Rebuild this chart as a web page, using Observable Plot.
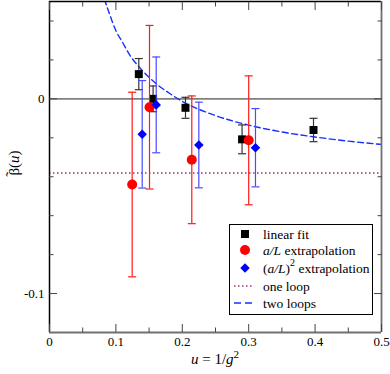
<!DOCTYPE html>
<html><head><meta charset="utf-8">
<script src="https://cdn.jsdelivr.net/npm/d3@7"></script>
<script src="https://cdn.jsdelivr.net/npm/@observablehq/plot@0.6"></script>
<style>body{margin:0;background:#fff} #chart{width:390px;height:374px}
#chart svg text{font-family:"Liberation Serif","DejaVu Serif",serif !important;}</style>
</head><body><div id="chart"></div>
<script>
// ---- data ----
const linearU   = [0.1345, 0.156, 0.2048, 0.290, 0.3976];
const linearB   = [0.0127, 0.0, -0.0046, -0.0208, -0.016];
const linearErr = [0.008, 0.0066, 0.0054, 0.0074, 0.006];

const aLU   = [0.1245, 0.1506, 0.2143, 0.300];
const aLB   = [-0.044, -0.0043, -0.0313, -0.0213];
const aLErr = [0.0474, 0.042, 0.0328, 0.0331];

const a2U   = [0.1396, 0.1607, 0.2249, 0.3102];
const a2B   = [-0.0182, -0.0031, -0.0237, -0.0251];
const a2Err = [0.0276, 0.0246, 0.022, 0.0201];

const oneLoop = -0.0381;
const twoLoopU = [0.078, 0.09, 0.1, 0.11, 0.12, 0.14, 0.16, 0.18, 0.2, 0.25, 0.3, 0.35, 0.4, 0.45, 0.5];
const twoLoopB = [0.056, 0.044, 0.035, 0.029, 0.023, 0.0145, 0.008, 0.003, -0.0013, -0.0086, -0.0135, -0.017, -0.0196, -0.0217, -0.0234];

const xMajor = [0, 0.1, 0.2, 0.3, 0.4, 0.5];
const xMinor = [0.05, 0.15, 0.25, 0.35, 0.45];
const yMajor = [0, -0.1];
const yMinor = [0.04, 0.02, -0.02, -0.04, -0.06, -0.08];
const legendLabels = ["linear fit", "a/L extrapolation", "(a/L)2 extrapolation", "one loop", "two loops"];

const mk = (U, B, E) => U.map((u, i) => ({u, b: B[i], e: E[i]}));
const linear = mk(linearU, linearB, linearErr);
const aL = mk(aLU, aLB, aLErr);
const a2 = mk(a2U, a2B, a2Err);
const two = twoLoopU.map((u, i) => ({u, b: twoLoopB[i]}));

const capSym = {draw(ctx, size) { const w = Math.sqrt(size / Math.PI); ctx.moveTo(-w, 0); ctx.lineTo(w, 0); }};

function errMarks(data, color, sym, r, fill) {
  return [
    Plot.ruleX(data, {x: "u", y1: d => d.b - d.e, y2: d => d.b + d.e, stroke: color, strokeWidth: 1.2}),
    Plot.dot(data, {x: "u", y: d => d.b + d.e, symbol: capSym, r: 4, stroke: color, strokeWidth: 1.2}),
    Plot.dot(data, {x: "u", y: d => d.b - d.e, symbol: capSym, r: 4, stroke: color, strokeWidth: 1.2}),
    Plot.dot(data, {x: "u", y: "b", symbol: sym, r, fill, stroke: "none"})
  ];
}

const FF = "'Liberation Serif','DejaVu Serif',serif";
const plot = Plot.plot({
  width: 390, height: 374,
  marginLeft: 49, marginRight: 9, marginTop: 1, marginBottom: 42,
  style: {fontFamily: FF, fontSize: "13px", background: "#fff", color: "#000"},
  x: {domain: [0, 0.5]},
  y: {domain: [-0.12, 0.05]},
  marks: [
    Plot.ruleY([0], {stroke: "#808080", strokeWidth: 1.8}),
    Plot.ruleY([oneLoop], {stroke: "#993377", strokeWidth: 1.5, strokeDasharray: "1.5,2.5"}),
    Plot.line(two, {x: "u", y: "b", stroke: "#1530ff", strokeWidth: 1.4, strokeDasharray: "6,3.5", curve: "monotone-x", clip: true}),
    ...errMarks(linear, "#333", "square", 4.5, "#000"),
    ...errMarks(aL, "#ff1a1a", "circle", 5, "#ff0000"),
    ...errMarks(a2, "#4a4aff", "diamond2", 4.3, "#0000ff"),
    // frame
    Plot.ruleX([0], {stroke: "#000", strokeWidth: 1.5}),
    Plot.ruleY([0.05], {stroke: "#000", strokeWidth: 1.5}),
    Plot.ruleX([0.5], {stroke: "#707070", strokeWidth: 1.8}),
    Plot.ruleY([-0.12], {stroke: "#707070", strokeWidth: 1.8}),
    // ticks (inward)
    Plot.axisX({anchor: "bottom", ticks: xMajor, tickSize: -8, tickFormat: () => "", label: null, stroke: "#444"}),
    Plot.axisX({anchor: "bottom", ticks: xMinor, tickSize: -4.5, tickFormat: () => "", label: null, stroke: "#444"}),
    Plot.axisX({anchor: "top", ticks: xMajor, tickSize: -8, tickFormat: () => "", label: null, stroke: "#444"}),
    Plot.axisX({anchor: "top", ticks: xMinor, tickSize: -4.5, tickFormat: () => "", label: null, stroke: "#444"}),
    Plot.axisY({anchor: "left", ticks: yMajor, tickSize: -8, tickFormat: () => "", label: null, stroke: "#444"}),
    Plot.axisY({anchor: "left", ticks: yMinor, tickSize: -4.5, tickFormat: () => "", label: null, stroke: "#444"}),
    Plot.axisY({anchor: "right", ticks: yMajor, tickSize: -8, tickFormat: () => "", label: null, stroke: "#444"}),
    Plot.axisY({anchor: "right", ticks: yMinor, tickSize: -4.5, tickFormat: () => "", label: null, stroke: "#444"}),
    // labels
    Plot.axisX({anchor: "bottom", ticks: xMajor, tickSize: 0, tickPadding: 4, tickFormat: d => String(d), label: null, fontSize: 13}),
    Plot.axisY({anchor: "left", ticks: yMajor, tickSize: 0, tickPadding: 5, tickFormat: d => String(d), label: null, fontSize: 13})
  ]
});
document.getElementById("chart").appendChild(plot);

const svg = d3.select(plot);
// axis titles
const xl = svg.append("text").attr("x", 215).attr("y", 364).attr("text-anchor", "middle")
  .style("font-size", "15px").attr("fill", "#000");
xl.append("tspan").attr("font-style", "italic").text("u");
xl.append("tspan").text(" = 1/");
xl.append("tspan").attr("font-style", "italic").text("g");
xl.append("tspan").attr("dy", -6).style("font-size", "11px").text("2");

const yl = svg.append("text").attr("transform", "translate(19,163) rotate(-90)").attr("text-anchor", "middle")
  .style("font-size", "15px").attr("fill", "#000");
yl.append("tspan").text("\u03B2(");
yl.append("tspan").attr("font-style", "italic").text("u");
yl.append("tspan").text(")");
svg.append("text").attr("transform", "translate(16,174) rotate(-90)").attr("text-anchor", "middle")
  .style("font-size", "15px").attr("fill", "#000").text("\u02DC");

// legend
const lg = svg.append("g").attr("fill", "#000");
lg.append("rect").attr("x", 229.5).attr("y", 224.5).attr("width", 143).attr("height", 90)
  .attr("fill", "#fff").attr("stroke", "#000").attr("stroke-width", 1);
const rows = [234, 250, 268, 286, 303];
const sx = 245, tx = 263;
lg.append("path").attr("transform", `translate(${sx},${rows[0]})`).attr("d", d3.symbol(d3.symbolSquare, 4.5 * 4.5 * Math.PI)()).attr("fill", "#000");
lg.append("path").attr("transform", `translate(${sx},${rows[1]})`).attr("d", d3.symbol(d3.symbolCircle, 5 * 5 * Math.PI)()).attr("fill", "#f00");
lg.append("path").attr("transform", `translate(${sx},${rows[2]})`).attr("d", d3.symbol(d3.symbolDiamond2, 4.3 * 4.3 * Math.PI)()).attr("fill", "#00f");
lg.append("line").attr("x1", 234).attr("x2", 254).attr("y1", rows[3]).attr("y2", rows[3]).attr("stroke", "#993377").attr("stroke-width", 1.5).attr("stroke-dasharray", "1.5,2.5");
lg.append("line").attr("x1", 234).attr("x2", 256).attr("y1", rows[4]).attr("y2", rows[4]).attr("stroke", "#1530ff").attr("stroke-width", 1.5).attr("stroke-dasharray", "7,4");

function lt(i) { return lg.append("text").attr("x", tx).attr("y", rows[i] + 4.5).attr("text-anchor", "start").style("font-size", "13.5px"); }
lt(0).text(legendLabels[0]);
{ const t = lt(1); t.append("tspan").attr("font-style", "italic").text("a/L"); t.append("tspan").text(" extrapolation"); }
{ const t = lt(2); t.append("tspan").text("("); t.append("tspan").attr("font-style", "italic").text("a/L");
  t.append("tspan").text(")"); t.append("tspan").attr("dy", -7).style("font-size", "10px").text("2");
  t.append("tspan").attr("dy", 7).text(" extrapolation"); }
lt(3).text(legendLabels[3]);
lt(4).text(legendLabels[4]);
</script></body></html>
